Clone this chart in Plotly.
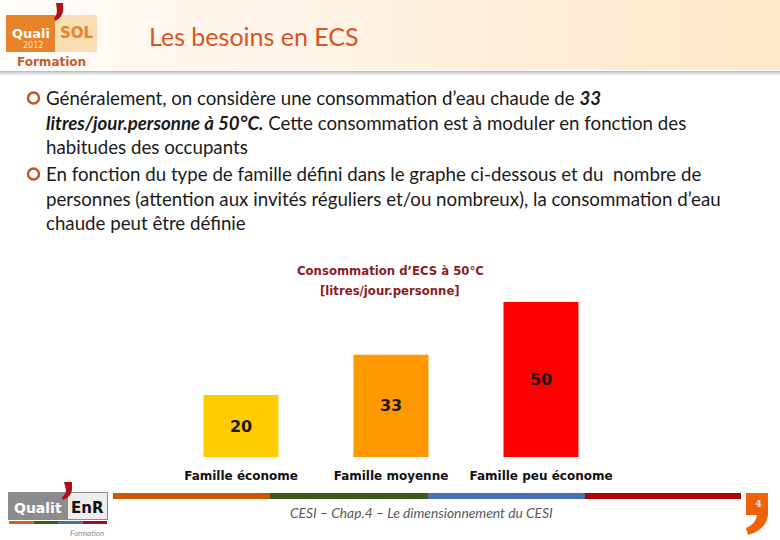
import plotly.graph_objects as go

# ---- data ----
categories = ["Famille économe", "Famille moyenne", "Famille peu économe"]
values = [20, 33, 50]
bar_colors = ["#FFCC00", "#FF9900", "#FF0000"]
chart_title_lines = ["Consommation d’ECS à 50°C", "[litres/jour.personne]"]
slide_title = "Les besoins en ECS"
body_lines = [
    "Généralement, on considère une consommation d’eau chaude de <b><i>33</i></b>",
    "<b><i>litres/jour.personne à 50°C.</i></b> Cette consommation est à moduler en fonction des",
    "habitudes des occupants",
    "En fonction du type de famille défini dans le graphe ci-dessous et du  nombre de",
    "personnes (attention aux invités réguliers et/ou nombreux), la consommation d’eau",
    "chaude peut être définie",
]
footer_text = "CESI – Chap.4 – Le dimensionnement du CESI"
page_num = "4"

W, H = 780, 540
def px(x):
    return x / W
def py(y):
    return 1 - y / H

def ann(text, x, y, size, color, family="Lato", weight="normal", xanchor="center"):
    return dict(text=text, x=px(x), y=py(y), xref="paper", yref="paper", showarrow=False,
                xanchor=xanchor, yanchor="middle",
                font=dict(family=family, size=size, color=color, weight=weight))

fig = go.Figure()
fig.add_trace(go.Bar(
    x=categories, y=values, width=0.5,
    marker=dict(color=bar_colors, line=dict(width=0)),
    text=[str(v) for v in values], textposition="inside",
    insidetextanchor="middle",
    textfont=dict(family="DejaVu Sans", size=16, color="#1a1a1a", weight="bold"),
    cliponaxis=False, hoverinfo="skip",
))

shapes = []
annotations = []

# header gradient background
n = 40
for i in range(n):
    t = i / (n - 1)
    g = int(253 - 22 * t)
    b = int(250 - 48 * t)
    shapes.append(dict(type="rect", xref="paper", yref="paper",
                       x0=px(W * i / n), x1=px(W * (i + 1) / n + 1),
                       y0=py(70), y1=py(0), line=dict(width=0),
                       fillcolor=f"rgb(255,{g},{b})", layer="below"))
# header shadow
for i, c in enumerate(["#BDBDBD", "#CFCFCF", "#E0E0E0", "#EEEEEE", "#F7F7F7"]):
    shapes.append(dict(type="rect", xref="paper", yref="paper",
                       x0=0, x1=1, y0=py(71 + i + 1), y1=py(71 + i),
                       line=dict(width=0), fillcolor=c, layer="below"))

# Qualisol logo
shapes += [
    dict(type="rect", xref="paper", yref="paper", x0=px(6), x1=px(55), y0=py(52), y1=py(15),
         fillcolor="#E8832A", line=dict(width=0)),
    dict(type="rect", xref="paper", yref="paper", x0=px(55), x1=px(97), y0=py(52), y1=py(15),
         fillcolor="#F9DDB5", line=dict(width=0)),
    dict(type="path", xref="paper", yref="paper",
         path=f"M {px(56)},{py(3)} L {px(63)},{py(3)} L {px(63)},{py(11)} Q {px(62)},{py(18)} {px(55)},{py(21)} L {px(54)},{py(18)} Q {px(57)},{py(15)} {px(57)},{py(11)} Z",
         fillcolor="#B0101A", line=dict(width=0)),
]
annotations += [
    ann("Quali", 31, 33, 13, "white", "DejaVu Sans", "bold"),
    ann("2012", 33, 45, 8, "#FCE3C8", "DejaVu Sans"),
    ann("SOL", 77, 33, 15, "#E8832A", "DejaVu Sans", "bold"),
    ann("Formation", 51, 62, 12, "#C0602A", "DejaVu Sans", "bold"),
    ann(slide_title, 147, 36, 25, "#D9541E", "Lato", xanchor="left"),
]

# body text
line_y = [98, 123, 147, 174, 199, 223]
line_x = [44, 44, 44, 44, 44, 44]
for txt, yy, xx in zip(body_lines, line_y, line_x):
    annotations.append(ann(txt, xx, yy, 18.7, "#1a1a1a", "Lato", xanchor="left"))
for yy in [98, 174]:
    shapes.append(dict(type="circle", xref="paper", yref="paper",
                       x0=px(28), x1=px(39), y0=py(yy + 5.5), y1=py(yy - 5.5),
                       line=dict(color="#C8501E", width=2.4)))

# chart title
for txt, yy in zip(chart_title_lines, [271, 291]):
    annotations.append(ann(txt, 390, yy, 11.7, "#8C1C1C", "DejaVu Sans", "bold"))

# footer colour bars
seg_x = [113, 270, 428, 585, 741]
seg_c = ["#CC5500", "#3E5A1A", "#4A6FB0", "#B00010"]
for i, c in enumerate(seg_c):
    shapes.append(dict(type="rect", xref="paper", yref="paper", x0=px(seg_x[i]), x1=px(seg_x[i + 1]),
                       y0=py(499), y1=py(493), fillcolor=c, line=dict(width=0)))
annotations.append(ann("<i>" + footer_text + "</i>", 421, 512, 13.8, "#595959", "Lato"))
# page number comma
shapes.append(dict(type="path", xref="paper", yref="paper",
                   path=f"M {px(746)},{py(493)} L {px(768)},{py(493)} L {px(768)},{py(515)} Q {px(766)},{py(530)} {px(748)},{py(535)} L {px(746)},{py(528)} Q {px(756)},{py(524)} {px(757)},{py(515)} L {px(746)},{py(515)} Z",
                   fillcolor="#F0620A", line=dict(width=0)))
annotations.append(ann(page_num, 758, 503, 10, "#FDE6D0", "DejaVu Serif", "bold"))

# Qualit'EnR logo
shapes += [
    dict(type="rect", xref="paper", yref="paper", x0=px(8), x1=px(108), y0=py(520), y1=py(492),
         fillcolor="#8C8C8C", line=dict(width=0)),
    dict(type="rect", xref="paper", yref="paper", x0=px(68), x1=px(107), y0=py(519), y1=py(493),
         fillcolor="#EDEDED", line=dict(width=0)),
    dict(type="path", xref="paper", yref="paper",
         path=f"M {px(64)},{py(482)} L {px(72)},{py(482)} L {px(72)},{py(490)} Q {px(71)},{py(497)} {px(63)},{py(500)} L {px(62)},{py(497)} Q {px(66)},{py(494)} {px(66)},{py(490)} Z",
         fillcolor="#B0101A", line=dict(width=0)),
]
for i, c in enumerate(["#D2601E", "#3E5A1A", "#4A6FB0", "#A0101A"]):
    shapes.append(dict(type="rect", xref="paper", yref="paper", x0=px(9 + i * 24.5), x1=px(9 + (i + 1) * 24.5),
                       y0=py(524), y1=py(521), fillcolor=c, line=dict(width=0)))
annotations += [
    ann("Qualit", 38, 508, 14, "white", "DejaVu Sans", "bold"),
    ann("EnR", 87, 508, 15, "#111111", "DejaVu Sans", "bold"),
    ann("<i>Formation</i>", 87, 533, 8, "#8C8C8C", "Lato"),
]

fig.update_layout(
    width=W, height=H,
    margin=dict(l=0, r=0, t=0, b=0),
    paper_bgcolor="white", plot_bgcolor="white",
    showlegend=False,
    bargap=0.5,
    xaxis=dict(domain=[px(166), px(616)], showgrid=False, zeroline=False, showline=False,
               ticks="", tickfont=dict(family="DejaVu Sans", size=12, color="#111111", weight="bold"),
               ticklabelstandoff=10, fixedrange=True),
    yaxis=dict(domain=[py(457), py(271)], range=[0, 60], visible=False, fixedrange=True),
    shapes=shapes, annotations=annotations,
)

fig.write_html("out.html", config={"displayModeBar": False},
               post_script="document.body.style.margin='0';document.body.style.overflow='hidden';")
